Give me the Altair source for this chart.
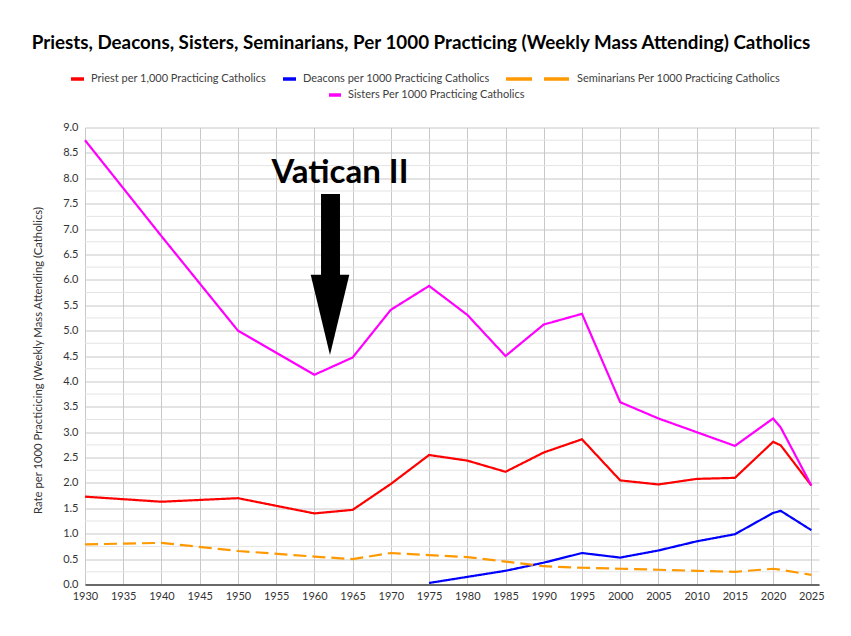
import altair as alt
import pandas as pd

# ---------------- data ----------------
years_main = [1930, 1940, 1950, 1960, 1965, 1970, 1975, 1980, 1985, 1990, 1995,
              2000, 2005, 2010, 2015, 2020, 2021, 2025]
priests = [1.73, 1.63, 1.70, 1.40, 1.47, 1.98, 2.55, 2.44, 2.22, 2.60, 2.86,
           2.05, 1.97, 2.08, 2.10, 2.81, 2.74, 1.95]
sisters = [8.75, 6.86, 5.00, 4.13, 4.47, 5.41, 5.88, 5.31, 4.50, 5.12, 5.33,
           3.59, 3.27, 3.00, 2.73, 3.27, 3.09, 1.95]
seminarians = [0.79, 0.82, 0.66, 0.55, 0.50, 0.62, 0.58, 0.54, 0.45, 0.36, 0.33,
               0.31, 0.29, 0.27, 0.25, 0.31, 0.29, 0.19]
years_deacons = [1975, 1980, 1985, 1990, 1995, 2000, 2005, 2010, 2015, 2020, 2021, 2025]
deacons = [0.03, 0.15, 0.27, 0.43, 0.62, 0.53, 0.67, 0.85, 0.99, 1.41, 1.45, 1.07]

series_names = ["Priest per 1,000 Practicing Catholics",
                "Deacons per 1000 Practicing Catholics",
                "Seminarians Per 1000 Practicing Catholics",
                "Sisters Per 1000 Practicing Catholics"]
series_colors = ["#FF0000", "#0000FF", "#FF9900", "#FF00FF"]

x_ticks = list(range(1930, 2030, 5))
y_ticks = [i * 0.5 for i in range(19)]
y_minor = [0.25 + i * 0.5 for i in range(18)]

title_text = "Priests, Deacons, Sisters, Seminarians, Per 1000 Practicing (Weekly Mass Attending) Catholics"
y_title = "Rate  per 1000 Practicicing (Weekly Mass Attending (Catholics)"
annot_text = "Vatican II"
annot_year = 1962.04  # year the arrow points to

# ---------------- build tables ----------------
rows = []
for y, v in zip(years_main, priests):
    rows.append({"year": y, "value": v, "series": series_names[0]})
for y, v in zip(years_deacons, deacons):
    rows.append({"year": y, "value": v, "series": series_names[1]})
for y, v in zip(years_main, seminarians):
    rows.append({"year": y, "value": v, "series": series_names[2]})
for y, v in zip(years_main, sisters):
    rows.append({"year": y, "value": v, "series": series_names[3]})
df = pd.DataFrame(rows)

W, H = 734, 457
FONT = "Lato"

xscale = alt.Scale(domain=[1930, 2026], nice=False, zero=False)
yscale = alt.Scale(domain=[0, 9], nice=False)

X_AX = alt.Axis(values=x_ticks, format="d", title=None,
                grid=True, gridColor="#c8c8c8", gridWidth=1,
                domain=True, domainColor="#404040", domainWidth=1.4,
                ticks=False, labelPadding=6, labelFontSize=11,
                labelFont=FONT, labelColor="#333333", labelFlush=False,
                labelOverlap=False)
Y_AX = alt.Axis(values=y_ticks, format=".1f", title=y_title,
                grid=True, gridColor="#c8c8c8", gridWidth=1,
                domain=False, ticks=False, labelPadding=7,
                labelFontSize=11, labelFont=FONT, labelColor="#333333",
                labelOverlap=False,
                titleFont=FONT, titleFontSize=11.3, titleFontWeight="normal",
                titleColor="#333333", titleX=-47, titleY=H / 2 + 4,
                titleAlign="center", titleBaseline="middle", titleAngle=-90)


def X(field):
    return alt.X(field, scale=xscale, axis=X_AX)


def Y(field):
    return alt.Y(field, scale=yscale, axis=Y_AX)


base = alt.Chart(df)

minor = alt.Chart(pd.DataFrame({"v": y_minor})).mark_rule(
    color="#e4e4e4", strokeWidth=1
).encode(
    y=Y("v:Q"),
    x=alt.value(0), x2=alt.value(W),
)

lines = base.mark_line(strokeWidth=2.2).encode(
    x=X("year:Q"),
    y=Y("value:Q"),
    color=alt.Color("series:N", scale=alt.Scale(domain=series_names, range=series_colors),
                    legend=None),
    strokeDash=alt.StrokeDash("series:N",
                              scale=alt.Scale(domain=series_names,
                                              range=[[1, 0], [1, 0], [13, 6], [1, 0]]),
                              legend=None),
    detail="series:N",
)

# arrow (annotation) in data coordinates
shaft = alt.Chart(pd.DataFrame({"x": [annot_year - 1.17], "x2": [annot_year + 1.31],
                                "y": [7.69], "y2": [6.08]})).mark_rect(color="black").encode(
    x=X("x:Q"), x2="x2:Q", y=Y("y:Q"), y2="y2:Q")

head = alt.Chart(pd.DataFrame({"x": [annot_year - 2.52, annot_year, annot_year + 2.53],
                               "y": [6.10, 6.10, 6.10],
                               "y2": [6.10, 4.52, 6.10]})).mark_area(
    color="black", opacity=1, interpolate="linear").encode(
    x=X("x:Q"), y=Y("y:Q"), y2="y2:Q")

annot = alt.Chart(pd.DataFrame({"x": [annot_year + 1.3], "y": [7.91], "t": [annot_text]})).mark_text(
    font=FONT, fontSize=33, fontWeight="bold", color="black", align="center",
    baseline="alphabetic").encode(x=X("x:Q"), y=Y("y:Q"), text="t:N")

# title
title = alt.Chart(pd.DataFrame({"t": [title_text]})).mark_text(
    font=FONT, fontSize=18.8, fontWeight="bold", color="black", align="center",
    baseline="middle").encode(x=alt.value(336), y=alt.value(-85), text="t:N")

# manual legend (layout positions relative to plot origin)
leg_layout = pd.DataFrame({
    "name": series_names,
    "tx": [6, 218, 492, 263],
    "ty": [-48.5, -48.5, -48.5, -32.5],
})
leg_sw = pd.DataFrame({
    "color": [series_colors[0], series_colors[1], series_colors[2], series_colors[2], series_colors[3]],
    "x": [-14, 198, 421, 459, 244],
    "x2": [-1, 211, 447, 484, 256],
    "y": [-48.5, -48.5, -48.5, -48.5, -32.5],
})
swatches = alt.Chart(leg_sw).mark_rule(strokeWidth=3.5).encode(
    x=alt.X("x:Q", scale=None), x2="x2:Q", y=alt.Y("y:Q", scale=None),
    color=alt.Color("color:N", scale=None))
leg_text = alt.Chart(leg_layout).mark_text(
    font=FONT, fontSize=11, color="#404040", align="left", baseline="middle").encode(
    x=alt.X("tx:Q", scale=None), y=alt.Y("ty:Q", scale=None), text="name:N")

chart = alt.layer(minor, lines, shaft, head, annot, title, swatches, leg_text).properties(
    width=W, height=H,
    autosize=alt.AutoSizeParams(type="none"),
    padding={"left": 85, "top": 127.5, "right": 32, "bottom": 51.5},
    background="white",
).configure_view(stroke=None)

chart.save("out.html", embed_options={"renderer": "svg", "actions": False})
